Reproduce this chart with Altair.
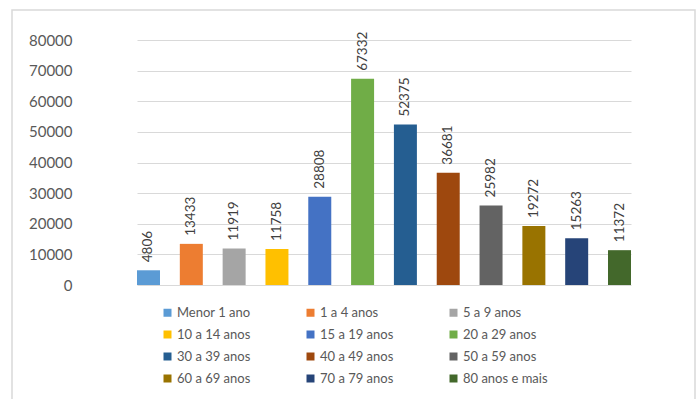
import altair as alt
import pandas as pd

categories = ["Menor 1 ano", "1 a 4 anos", "5 a 9 anos", "10 a 14 anos", "15 a 19 anos",
              "20 a 29 anos", "30 a 39 anos", "40 a 49 anos", "50 a 59 anos",
              "60 a 69 anos", "70 a 79 anos", "80 anos e mais"]
values = [4806, 13433, 11919, 11758, 28808, 67332, 52375, 36681, 25982, 19272, 15263, 11372]
colors = ["#5B9BD5", "#ED7D31", "#A5A5A5", "#FFC000", "#4472C4", "#70AD47",
          "#255E91", "#9E480E", "#636363", "#997300", "#264478", "#43682B"]
y_ticks = [0, 10000, 20000, 30000, 40000, 50000, 60000, 70000, 80000]

df = pd.DataFrame({"faixa": categories, "valor": values})

FONT = "Lato"

x_enc = alt.X("faixa:N", sort=categories, axis=None,
              scale=alt.Scale(paddingInner=0.463, paddingOuter=0, range=[50, 544]))
y_enc = alt.Y("valor:Q",
              scale=alt.Scale(domain=[0, 80000], nice=False),
              axis=alt.Axis(values=y_ticks, title=None, grid=True, gridColor="#d9d9d9",
                            gridWidth=1, domain=False, ticks=False, labelPadding=15,
                            labelFontSize=15, labelColor="#595959", labelFont=FONT,
                            labelOverlap=False, format="d"))

bars = alt.Chart(df).mark_bar().encode(
    x=x_enc,
    y=y_enc,
    color=alt.Color("faixa:N", sort=categories,
                    scale=alt.Scale(domain=categories, range=colors),
                    legend=alt.Legend(title=None, orient="none", legendX=74, legendY=266,
                                      direction="horizontal",
                                      columns=3, columnPadding=53, rowPadding=8,
                                      symbolType="square", symbolSize=64,
                                      symbolStrokeWidth=0, symbolOffset=0,
                                      labelFontSize=13, labelColor="#595959",
                                      labelFont=FONT, labelOffset=3, padding=0,
                                      labelLimit=200)),
)

labels = alt.Chart(df).mark_text(angle=270, align="left", baseline="middle", dx=8,
                                 fontSize=13.5, color="#404040", font=FONT).encode(
    x=x_enc,
    y=y_enc,
    text=alt.Text("valor:Q", format="d"),
)

frame = alt.Chart(pd.DataFrame({"a": [0]})).mark_rect(
    fill=None, stroke="#d9d9d9", strokeWidth=1.5).encode(
    x=alt.value(-75), x2=alt.value(608), y=alt.value(-30), y2=alt.value(380))

chart = alt.layer(frame, bars, labels).properties(
    width=593, height=245,
    autosize=alt.AutoSizeParams(type="none"),
    padding={"left": 87, "top": 40, "right": 20, "bottom": 114},
).configure_view(stroke=None)

chart.save("out.html", embed_options={"renderer": "svg", "actions": False})
